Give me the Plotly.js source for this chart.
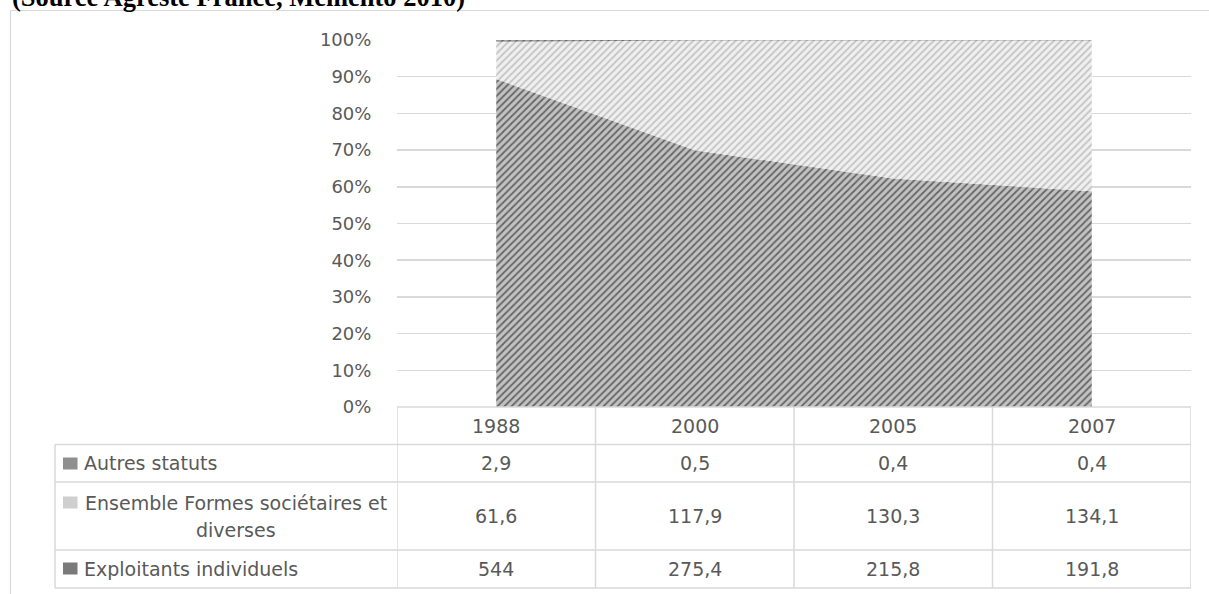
<!DOCTYPE html>
<html>
<head>
<meta charset="utf-8">
<script src="https://cdn.plot.ly/plotly-3.0.1.min.js"></script>
<style>
  html, body { margin: 0; padding: 0; background: #ffffff; }
  #chart { width: 1209px; height: 594px; }
</style>
</head>
<body>
<div id="chart"></div>
<script>
// Exploitations agricoles par statut juridique (milliers)
const years = ['1988', '2000', '2005', '2007'];
const individuels = [544, 275.4, 215.8, 191.8];
const societaires = [61.6, 117.9, 130.3, 134.1];
const autres = [2.9, 0.5, 0.4, 0.4];
const seriesNames = ['Exploitants individuels', 'Ensemble Formes sociétaires et diverses', 'Autres statuts'];
const titleText = '(Source Agreste France, Memento 2010)';

// frame geometry (pixels)
const W = 1209, H = 594;
const L = 397, R = 1191, T = 40, B = 407;
const px2x = p => (p - L) / (R - L);
const px2y = p => (B - p) / (B - T);

const GRID = '#d9d9d9';
const TXT = '#595959';
const FONT = 'DejaVu Sans';

const fmt = v => String(v).replace('.', ',');

const styles = [
  { bg: '#c2c2c2', fg: '#666666', sw: '#7a7a7a' },
  { bg: '#f0f0f0', fg: '#c4c4c4', sw: '#cfcfcf' },
  { bg: '#a0a0a0', fg: '#6a6a6a', sw: '#8f8f8f' }
];
const seriesValues = [individuels, societaires, autres];

const traces = seriesValues.map((vals, i) => ({
  type: 'scatter',
  mode: 'lines',
  x: years,
  y: vals,
  name: seriesNames[i],
  stackgroup: 'one',
  groupnorm: i === 0 ? 'percent' : undefined,
  line: { width: 0, color: styles[i].fg },
  fillcolor: styles[i].bg,
  fillpattern: { shape: '/', bgcolor: styles[i].bg, fgcolor: styles[i].fg, size: 5, solidity: 0.35, fillmode: 'replace' },
  hoverinfo: 'skip'
}));

// table rows: [top, bottom] in pixels
const headerRow = [407, 444.5];
const rowBands = [[444.5, 482], [482, 550], [550, 588]];
const tableLeft = 55;

const shapes = [];
const line = (xref, x0, x1, y0, y1, w) => shapes.push({
  type: 'line', xref: xref, yref: 'paper', x0: x0, x1: x1, y0: px2y(y0), y1: px2y(y1),
  line: { color: GRID, width: w || 1.5 }, layer: 'above'
});

// outer chart border
shapes.push({ type: 'line', xref: 'paper', yref: 'paper', x0: px2x(10), x1: px2x(W + 5), y0: px2y(10.5), y1: px2y(10.5), line: { color: GRID, width: 1.2 } });
shapes.push({ type: 'line', xref: 'paper', yref: 'paper', x0: px2x(10.5), x1: px2x(10.5), y0: px2y(10.5), y1: px2y(H + 5), line: { color: GRID, width: 1.2 } });

// horizontal rules
line('paper', 0, 1, headerRow[0], headerRow[0]);
[headerRow[1], rowBands[1][0], rowBands[2][0], rowBands[2][1]].forEach(y => line('paper', px2x(tableLeft), 1, y, y));
// vertical rules
line('paper', px2x(tableLeft), px2x(tableLeft), headerRow[1], rowBands[2][1]);
for (let k = 0; k <= years.length; k++) {
  line('x', k - 0.5, k - 0.5, headerRow[0], rowBands[2][1]);
}

const annotations = [];
// title
annotations.push({
  xref: 'paper', yref: 'paper', x: px2x(10), y: px2y(14), xanchor: 'left', yanchor: 'bottom',
  text: '<b>' + titleText + '</b>', showarrow: false,
  font: { family: 'Liberation Serif', size: 26.5, color: '#000000' }
});

const cellFont = { family: FONT, size: 19, color: TXT };
const mid = band => px2y((band[0] + band[1]) / 2);

// header: years (category index positions)
years.forEach((yr, c) => annotations.push({
  xref: 'x', yref: 'paper', x: c, y: mid(headerRow), xanchor: 'center', yanchor: 'middle',
  text: yr, showarrow: false, font: cellFont
}));

// rows in table order: Autres, Ensemble, Exploitants
const tableOrder = [2, 1, 0];
tableOrder.forEach((si, r) => {
  const band = rowBands[r];
  seriesValues[si].forEach((v, c) => annotations.push({
    xref: 'x', yref: 'paper', x: c, y: mid(band), xanchor: 'center', yanchor: 'middle',
    text: fmt(v), showarrow: false, font: cellFont
  }));
});

// row labels with swatches
const swatch = (si, yTop) => shapes.push({
  type: 'rect', xref: 'paper', yref: 'paper', x0: px2x(63), x1: px2x(77.5), y0: px2y(yTop), y1: px2y(yTop + 12),
  fillcolor: styles[si].sw, line: { width: 0 }, layer: 'above'
});
swatch(2, 457.5);
annotations.push({ xref: 'paper', yref: 'paper', x: px2x(82), y: mid(rowBands[0]), xanchor: 'left', yanchor: 'middle', text: seriesNames[2], showarrow: false, font: cellFont });

swatch(1, 496.5);
const ensWords = seriesNames[1].split(' ');
annotations.push({ xref: 'paper', yref: 'paper', x: px2x(236), y: px2y(502.5), xanchor: 'center', yanchor: 'middle', text: ensWords.slice(0, -1).join(' '), showarrow: false, font: cellFont });
annotations.push({ xref: 'paper', yref: 'paper', x: px2x(236), y: px2y(530), xanchor: 'center', yanchor: 'middle', text: ensWords[ensWords.length - 1], showarrow: false, font: cellFont });

swatch(0, 562.5);
annotations.push({ xref: 'paper', yref: 'paper', x: px2x(82), y: mid(rowBands[2]), xanchor: 'left', yanchor: 'middle', text: seriesNames[0], showarrow: false, font: cellFont });

const layout = {
  width: W, height: H,
  margin: { l: L, r: W - R, t: T, b: H - B, pad: 0 },
  paper_bgcolor: '#ffffff', plot_bgcolor: '#ffffff',
  showlegend: false,
  xaxis: {
    type: 'category', range: [-0.5, years.length - 0.5],
    showticklabels: false, showgrid: false, zeroline: false, showline: false, ticks: ''
  },
  yaxis: {
    range: [0, 100], dtick: 10, ticksuffix: '%',
    showgrid: true, gridcolor: GRID, gridwidth: 1.5, zeroline: false, showline: false,
    ticks: 'outside', ticklen: 21, tickcolor: 'rgba(0,0,0,0)',
    tickfont: { family: FONT, size: 18, color: TXT }
  },
  shapes: shapes,
  annotations: annotations
};

Plotly.newPlot('chart', traces, layout, { staticPlot: true, displayModeBar: false });
</script>
</body>
</html>
